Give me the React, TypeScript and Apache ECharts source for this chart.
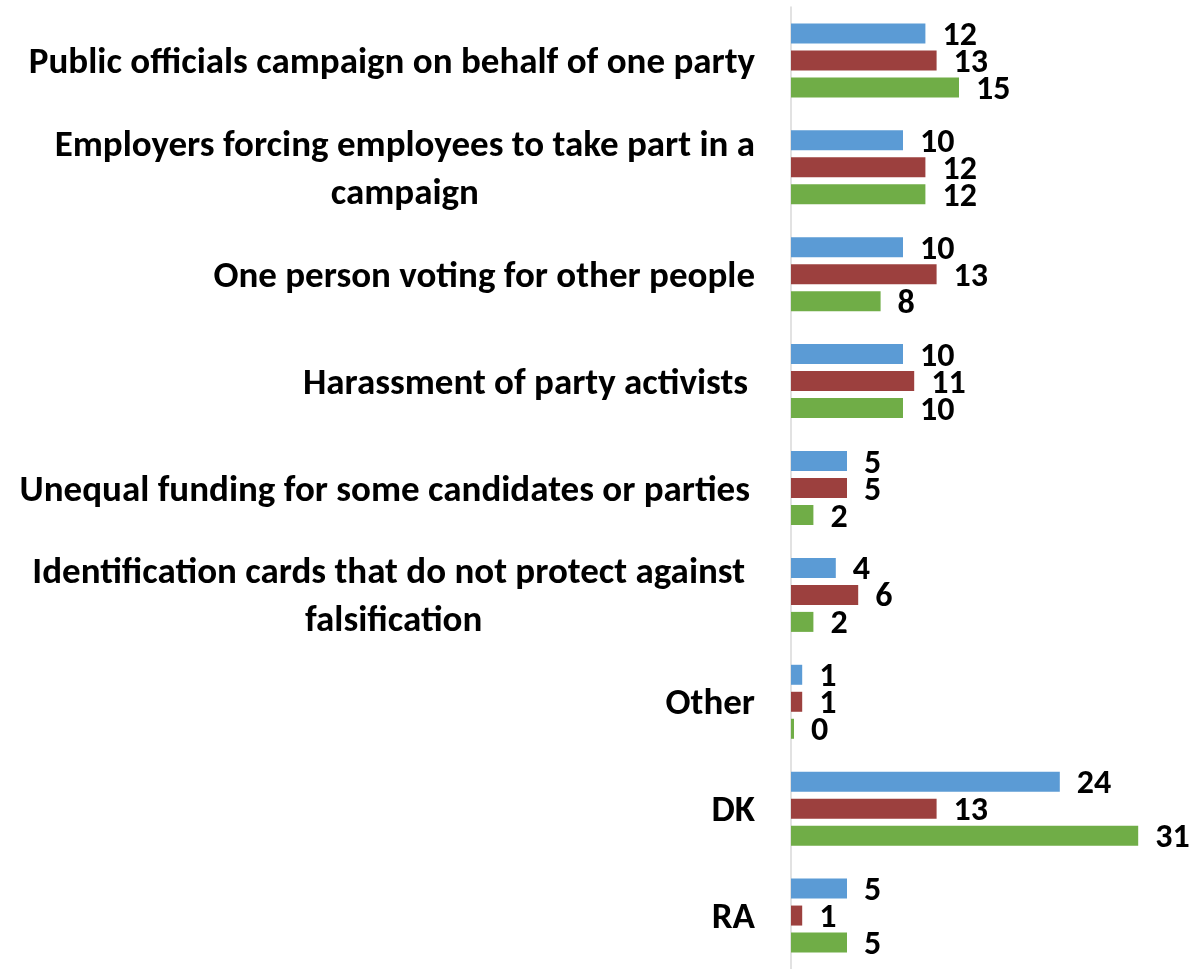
import React, { useEffect, useRef } from "react";
import * as echarts from "echarts";

const categories = [
  "Public officials campaign on behalf of one party",
  "Employers forcing employees to take part in a\ncampaign",
  "One person voting for other people",
  "Harassment of party activists",
  "Unequal funding for some candidates or parties",
  "Identification cards that do not protect against\nfalsification",
  "Other",
  "DK",
  "RA",
];
const seriesA = [12, 10, 10, 10, 5, 4, 1, 24, 5];
const seriesB = [13, 12, 13, 11, 5, 6, 1, 13, 1];
const seriesC = [15, 12, 8, 10, 2, 2, 0, 31, 5];
const colors = ["#5B9BD5", "#9C403E", "#70AD47"];
const rightPad: Record<string, number> = {
  "Harassment of party activists": 7,
  "Unequal funding for some candidates or parties": 5,
  "Identification cards that do not protect against\nfalsification": 10,
};

const FONT = "Carlito, Lato, 'Noto Sans', sans-serif";
const CAT_SIZE = 37;

export default function App() {
  const ref = useRef<HTMLDivElement>(null);
  useEffect(() => {
    if (!ref.current) return;
    const chart = echarts.init(ref.current, undefined, { renderer: "svg" });
    const label = {
      show: true,
      position: "right" as const,
      distance: 17,
      color: "#000",
      fontSize: 34,
      lineHeight: 26,
      fontWeight: "bold" as const,
      fontFamily: FONT,
    };
    const mk = (name: string, data: number[], color: string) => ({
      type: "bar",
      name,
      data,
      barWidth: 20,
      barGap: "35%",
      barMinHeight: name === "C" ? 3 : 0,
      itemStyle: { color },
      label,
    });
    const base = { fontSize: CAT_SIZE, fontWeight: "bold", fontFamily: FONT, color: "#000", lineHeight: 48 };
    chart.setOption({
      animation: false,
      grid: { left: 791, top: 7, width: 392, height: 968 },
      xAxis: { type: "value", min: 0, max: 35, show: false },
      yAxis: {
        type: "category",
        inverse: true,
        data: categories,
        axisTick: { show: false },
        axisLine: { show: true, lineStyle: { color: "#D9D9D9", width: 1.5 } },
        axisLabel: {
          margin: 36,
          ...base,
          formatter: (v: string) => {
            const lines = v.split("\n");
            const pad = rightPad[v] || 0;
            if (lines.length > 1)
              return lines.map((l, i) => (i === 0 && pad ? `{c|${l}}{s${pad}|}` : `{c|${l}}`)).join("\n");
            if (pad) return `{c|${v}}{s${pad}|}`;
            return `{c|${v}}`;
          },
          rich: {
            c: { ...base, align: "center" },
            s5: { ...base, width: 5 },
            s7: { ...base, width: 7 },
            s10: { ...base, width: 10 },
          },
        },
      },
      series: [mk("A", seriesA, colors[0]), mk("B", seriesB, colors[1]), mk("C", seriesC, colors[2])],
    });
    return () => chart.dispose();
  }, []);
  return <div ref={ref} style={{ position: "fixed", left: 0, top: 0, width: 1201, height: 969 }} />;
}
